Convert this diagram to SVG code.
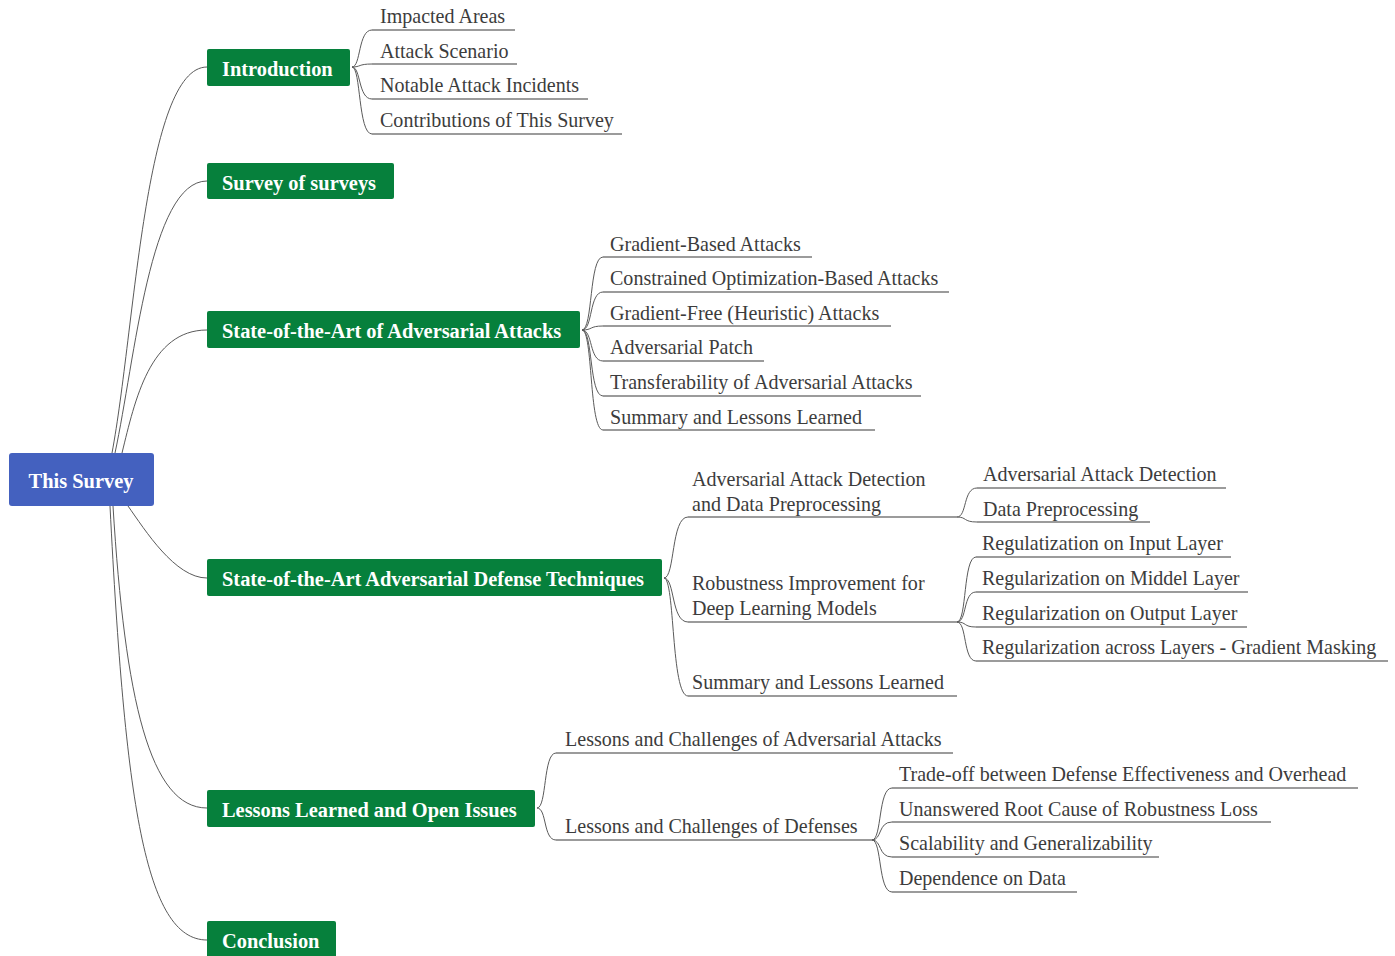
<svg xmlns="http://www.w3.org/2000/svg" width="1395" height="956" viewBox="0 0 1395 956">
<style>
.bg{fill:#ffffff}
.root{fill:#4461BF}
.main{fill:#06803C}
.mt{font-family:"Liberation Serif","Times New Roman",serif;font-weight:bold;font-size:20.4px;fill:#ffffff}
.ct{font-family:"Liberation Serif","Times New Roman",serif;font-size:20.05px;fill:#3c3c3c}
.conn{fill:none;stroke:#5a5a5a;stroke-width:1}
.ul{fill:none;stroke:#7a7a7a;stroke-width:1.3}
</style>
<rect class="bg" x="0" y="0" width="1395" height="956"/>
<g id="connectors">
<path class="conn" d="M112,453 C135,330 145,67 207,67"/>
<path class="conn" d="M115,453 C135,360 150,181 207,181"/>
<path class="conn" d="M122,453 C135,400 150,330 207,330"/>
<path class="conn" d="M128,506 C145,530 175,578 207,578"/>
<path class="conn" d="M113,506 C125,700 150,808 207,808"/>
<path class="conn" d="M110,506 C125,800 145,940 207,940"/>
<path class="conn" d="M352,67 C361,67 358,30 372,30"/>
<path class="conn" d="M352,67 C361,67 358,64 372,64"/>
<path class="conn" d="M352,67 C361,67 358,99 372,99"/>
<path class="conn" d="M352,67 C361,67 358,134 372,134"/>
<path class="conn" d="M582,330 C593,330 589,257 603,257"/>
<path class="conn" d="M582,330 C593,330 589,292 603,292"/>
<path class="conn" d="M582,330 C593,330 589,326 603,326"/>
<path class="conn" d="M582,330 C593,330 589,361 603,361"/>
<path class="conn" d="M582,330 C593,330 589,396 603,396"/>
<path class="conn" d="M582,330 C593,330 589,430 603,430"/>
<path class="conn" d="M664,578 C675,578 671,517 688,517"/>
<path class="conn" d="M664,578 C675,578 671,622 688,622"/>
<path class="conn" d="M664,578 C675,578 671,696 688,696"/>
<path class="conn" d="M957,517 C967,517 963,488 977,488"/>
<path class="conn" d="M957,517 C967,517 963,522 977,522"/>
<path class="conn" d="M957,622 C967,622 963,557 976,557"/>
<path class="conn" d="M957,622 C967,622 963,592 976,592"/>
<path class="conn" d="M957,622 C967,622 963,627 976,627"/>
<path class="conn" d="M957,622 C967,622 963,661 976,661"/>
<path class="conn" d="M537,808 C547,808 543,753 556,753"/>
<path class="conn" d="M537,808 C547,808 543,840 556,840"/>
<path class="conn" d="M872,840 C882,840 878,788 892,788"/>
<path class="conn" d="M872,840 C882,840 878,822 892,822"/>
<path class="conn" d="M872,840 C882,840 878,857 892,857"/>
<path class="conn" d="M872,840 C882,840 878,892 892,892"/>
</g>
<g id="node-root"><rect class="root" x="9" y="453" width="145" height="53" rx="3"/><text class="mt" x="81" y="488" text-anchor="middle">This Survey</text></g>
<g id="node-intro"><rect class="main" x="207" y="49" width="143" height="37" rx="2"/><text class="mt" x="222" y="76">Introduction</text></g>
<g id="node-sos"><rect class="main" x="207" y="163" width="187" height="36" rx="2"/><text class="mt" x="222" y="190">Survey of surveys</text></g>
<g id="node-attacks"><rect class="main" x="207" y="311" width="373" height="37" rx="2"/><text class="mt" x="222" y="338">State-of-the-Art of Adversarial Attacks</text></g>
<g id="node-defense"><rect class="main" x="207" y="559" width="455" height="37" rx="2"/><text class="mt" x="222" y="586">State-of-the-Art Adversarial Defense Techniques</text></g>
<g id="node-lessons"><rect class="main" x="207" y="790" width="328" height="37" rx="2"/><text class="mt" x="222" y="817">Lessons Learned and Open Issues</text></g>
<g id="node-conclusion"><rect class="main" x="207" y="921" width="129" height="37" rx="2"/><text class="mt" x="222" y="948">Conclusion</text></g>
<g id="n-impacted"><path class="ul" d="M372,30 H515"/><text class="ct" x="380" y="23">Impacted Areas</text></g>
<g id="n-scenario"><path class="ul" d="M372,64 H517"/><text class="ct" x="380" y="58">Attack Scenario</text></g>
<g id="n-incidents"><path class="ul" d="M372,99 H588"/><text class="ct" x="380" y="92">Notable Attack Incidents</text></g>
<g id="n-contrib"><path class="ul" d="M372,134 H622"/><text class="ct" x="380" y="127">Contributions of This Survey</text></g>
<g id="n-gradient"><path class="ul" d="M603,257 H812"/><text class="ct" x="610" y="251">Gradient-Based Attacks</text></g>
<g id="n-constrained"><path class="ul" d="M603,292 H949"/><text class="ct" x="610" y="285">Constrained Optimization-Based Attacks</text></g>
<g id="n-gradfree"><path class="ul" d="M603,326 H891"/><text class="ct" x="610" y="320">Gradient-Free (Heuristic) Attacks</text></g>
<g id="n-patch"><path class="ul" d="M603,361 H764"/><text class="ct" x="610" y="354">Adversarial Patch</text></g>
<g id="n-transfer"><path class="ul" d="M603,396 H921"/><text class="ct" x="610" y="389">Transferability of Adversarial Attacks</text></g>
<g id="n-summary1"><path class="ul" d="M603,430 H875"/><text class="ct" x="610" y="424">Summary and Lessons Learned</text></g>
<g id="n-aad"><path class="ul" d="M688,517 H957"/><text class="ct" x="692" y="486">Adversarial Attack Detection</text><text class="ct" x="692" y="511">and Data Preprocessing</text></g>
<g id="n-robust"><path class="ul" d="M688,622 H957"/><text class="ct" x="692" y="590">Robustness Improvement for</text><text class="ct" x="692" y="615">Deep Learning Models</text></g>
<g id="n-summary2"><path class="ul" d="M688,696 H957"/><text class="ct" x="692" y="689">Summary and Lessons Learned</text></g>
<g id="n-detect"><path class="ul" d="M977,488 H1226"/><text class="ct" x="983" y="481">Adversarial Attack Detection</text></g>
<g id="n-preproc"><path class="ul" d="M977,522 H1150"/><text class="ct" x="983" y="516">Data Preprocessing</text></g>
<g id="n-input"><path class="ul" d="M976,557 H1231"/><text class="ct" x="982" y="550">Regulatization on Input Layer</text></g>
<g id="n-middel"><path class="ul" d="M976,592 H1248"/><text class="ct" x="982" y="585">Regularization on Middel Layer</text></g>
<g id="n-output"><path class="ul" d="M976,627 H1247"/><text class="ct" x="982" y="620">Regularization on Output Layer</text></g>
<g id="n-across"><path class="ul" d="M976,661 H1388"/><text class="ct" x="982" y="654">Regularization across Layers - Gradient Masking</text></g>
<g id="n-lca"><path class="ul" d="M556,753 H953"/><text class="ct" x="565" y="746">Lessons and Challenges of Adversarial Attacks</text></g>
<g id="n-lcd"><path class="ul" d="M556,840 H872"/><text class="ct" x="565" y="833">Lessons and Challenges of Defenses</text></g>
<g id="n-tradeoff"><path class="ul" d="M892,788 H1358"/><text class="ct" x="899" y="781">Trade-off between Defense Effectiveness and Overhead</text></g>
<g id="n-rootcause"><path class="ul" d="M892,822 H1271"/><text class="ct" x="899" y="816">Unanswered Root Cause of Robustness Loss</text></g>
<g id="n-scal"><path class="ul" d="M892,857 H1159"/><text class="ct" x="899" y="850">Scalability and Generalizability</text></g>
<g id="n-data"><path class="ul" d="M892,892 H1077"/><text class="ct" x="899" y="885">Dependence on Data</text></g>
</svg>
